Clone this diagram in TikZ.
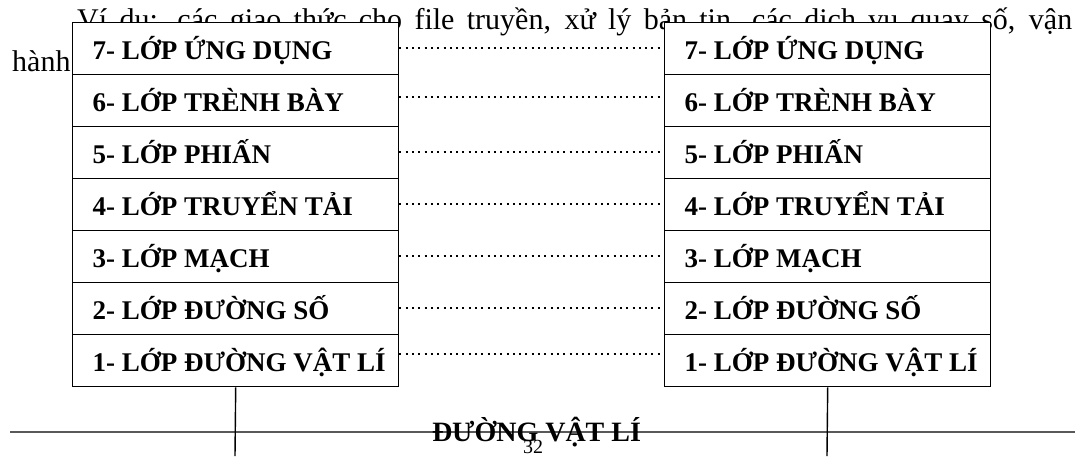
\documentclass[tikz,border=0pt]{standalone}
\usepackage{fontspec}
\setmainfont{Liberation Serif}
\begin{document}
\begin{tikzpicture}[x=1pt,y=-1pt,
  bodytext/.style={inner sep=0pt, anchor=base west, font=\fontsize{30}{36}\selectfont},
  layer/.style={draw, line width=1.4pt, fill=white, rectangle, anchor=north west,
    minimum width=326pt, minimum height=52pt, inner xsep=20pt, inner ysep=0pt,
    text height=22pt, text depth=0pt, font=\fontsize{27}{30}\selectfont\bfseries},
  dotline/.style={line width=2pt, dash pattern=on 2pt off 4.3pt},
  vline/.style={line width=1.4pt},
  hline/.style={line width=1.3pt, black!65},
  medium/.style={inner sep=0pt, anchor=base, font=\fontsize{28}{30}\selectfont\bfseries},
  pagenum/.style={inner sep=0pt, anchor=base, font=\fontsize{20}{24}\selectfont}]
\useasboundingbox[fill=white] (0,0) rectangle (1080,456);

% running text behind the boxes
\node[bodytext] (t1) at (77,29) {\makebox[995pt][s]{Ví dụ: các giao thức cho file truyền, xử lý bản tin, các dịch vụ quay số, vận}};
\node[bodytext] (t2) at (12,71) {hành};

% physical medium
\coordinate (hl) at (10,432);
\coordinate (hr) at (1075,432);
\draw[hline] (hl) -- (hr);
\coordinate (lb) at (235,456);
\coordinate (rb) at (827,456);

% left stack
\node[layer] (L7) at (72,22)  {\makebox[286pt][l]{7- LỚP ỨNG DỤNG}};
\node[layer] (L6) at (72,74)  {\makebox[286pt][l]{6- LỚP TRÈNH BÀY}};
\node[layer] (L5) at (72,126) {\makebox[286pt][l]{5- LỚP PHIẤN}};
\node[layer] (L4) at (72,178) {\makebox[286pt][l]{4- LỚP TRUYỂN TẢI}};
\node[layer] (L3) at (72,230) {\makebox[286pt][l]{3- LỚP MẠCH}};
\node[layer] (L2) at (72,282) {\makebox[286pt][l]{2- LỚP ĐƯỜNG SỐ}};
\node[layer] (L1) at (72,334) {\makebox[286pt][l]{1- LỚP ĐƯỜNG VẬT LÍ}};

% right stack
\node[layer] (R7) at (664,22)  {\makebox[286pt][l]{7- LỚP ỨNG DỤNG}};
\node[layer] (R6) at (664,74)  {\makebox[286pt][l]{6- LỚP TRÈNH BÀY}};
\node[layer] (R5) at (664,126) {\makebox[286pt][l]{5- LỚP PHIẤN}};
\node[layer] (R4) at (664,178) {\makebox[286pt][l]{4- LỚP TRUYỂN TẢI}};
\node[layer] (R3) at (664,230) {\makebox[286pt][l]{3- LỚP MẠCH}};
\node[layer] (R2) at (664,282) {\makebox[286pt][l]{2- LỚP ĐƯỜNG SỐ}};
\node[layer] (R1) at (664,334) {\makebox[286pt][l]{1- LỚP ĐƯỜNG VẬT LÍ}};

% peer-to-peer dotted links
\draw[dotline] ([yshift=1pt]L7.east) -- ([yshift=1pt]R7.west);
\draw[dotline] ([yshift=4pt]L6.east) -- ([yshift=4pt]R6.west);
\draw[dotline] ([yshift=1pt]L5.east) -- ([yshift=1pt]R5.west);
\draw[dotline] ([yshift=1pt]L4.east) -- ([yshift=1pt]R4.west);
\draw[dotline] ([yshift=1pt]L3.east) -- ([yshift=1pt]R3.west);
\draw[dotline] ([yshift=1pt]L2.east) -- ([yshift=1pt]R2.west);
\draw[dotline] ([yshift=7pt]L1.east) -- ([yshift=7pt]R1.west);

% connections to the medium
\draw[vline] (L1.south) -- (lb);
\draw[vline] (R1.south) -- (rb);

\node[medium] (med) at (536.5,441.5) {ĐƯỜNG VẬT LÍ};
\node[pagenum] (pg) at (533,453) {32};
\end{tikzpicture}
\end{document}
